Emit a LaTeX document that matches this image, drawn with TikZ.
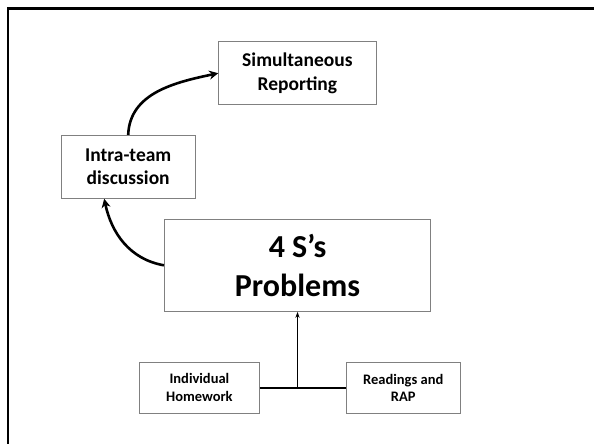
\documentclass[tikz,border=0pt]{standalone}
\usepackage{fontspec}
\setmainfont{Carlito}
\usetikzlibrary{arrows.meta,calc}
\begin{document}
\begin{tikzpicture}[x=1pt,y=-1pt,
  box/.style={draw=black!50,line width=0.9pt,align=center,inner sep=0pt,font=\bfseries},
  midtxt/.style={font=\fontsize{19.5}{23.5}\selectfont\bfseries},
  smalltxt/.style={font=\fontsize{14.5}{17.7}\selectfont\bfseries},
  bigtxt/.style={font=\fontsize{32}{38.5}\selectfont\bfseries},
  curvearrow/.style={line width=2.6pt,-{Stealth[length=9pt,width=9pt]}},
  feed/.style={line width=1.4pt}]
\useasboundingbox (0,0) rectangle (594,444);
\begin{scope}
\clip (0,0) rectangle (594,444);
\draw[line width=2.4pt] (7.8,460) -- (7.8,8.5) -- (610,8.5);
\end{scope}
\node[box,midtxt,minimum width=157.5pt,minimum height=63pt] (sim) at (297.4,73.2) {Simultaneous\\Reporting};
\node[box,midtxt,minimum width=134.5pt,minimum height=63pt] (intra) at (128.2,166.8) {Intra-team\\discussion};
\node[box,bigtxt,minimum width=266.3pt,minimum height=92pt] (prob) at (297.5,265.3) {4 S’s\\Problems};
\node[box,smalltxt,minimum width=120pt,minimum height=51pt] (ind) at (199.4,387.8) {Individual\\Homework};
\node[box,smalltxt,minimum width=114pt,minimum height=51pt] (read) at (403.2,387.8) {Readings and\\RAP};
\coordinate (junc) at (prob.south |- ind.east);
\coordinate (intrain) at ($(intra.south)+(-24,0)$);
\draw[feed] (ind.east) -- (read.west);
\draw[feed,-{Stealth[length=6pt,width=4pt]}] (junc) -- (prob.south);
\draw[curvearrow] (prob.west) to[out=170,in=-78] (intrain);
\draw[curvearrow] (intra.north) to[out=88,in=192] (sim.west);
\end{tikzpicture}
\end{document}
